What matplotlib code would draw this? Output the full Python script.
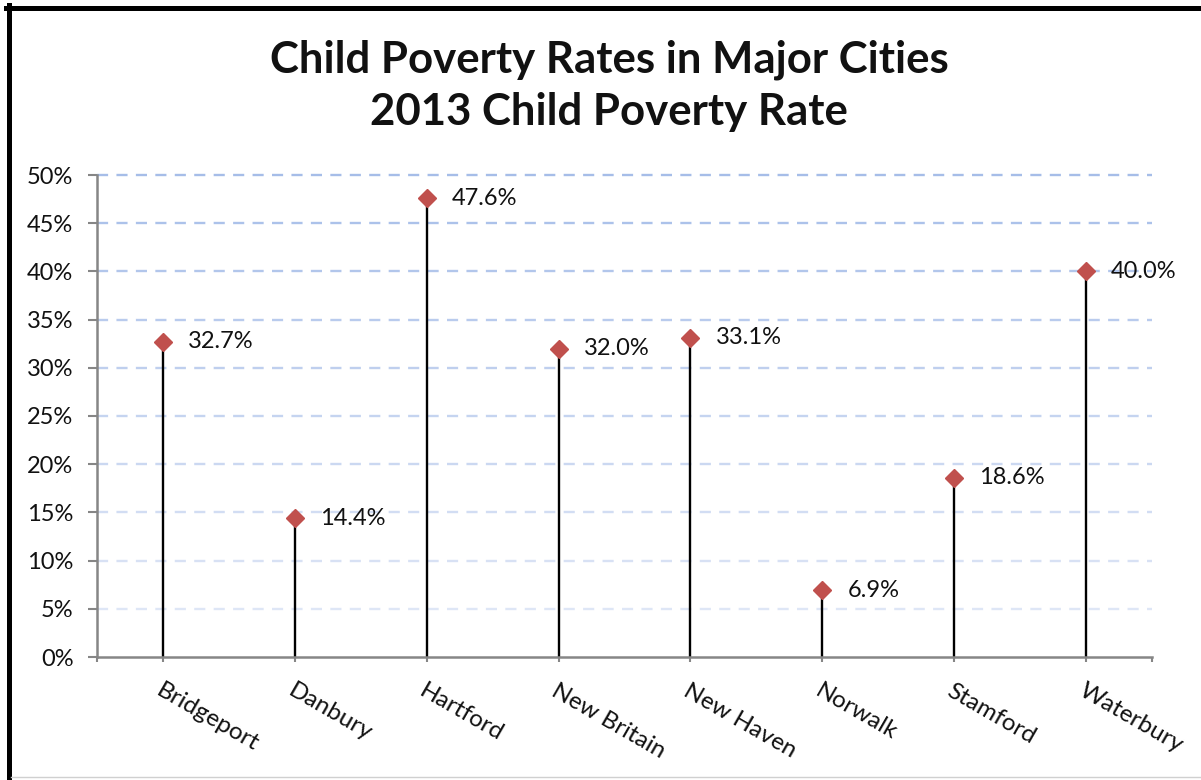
import numpy as np
import matplotlib
matplotlib.use('Agg')
import matplotlib.pyplot as plt
from matplotlib.lines import Line2D

# Chart data
cities = ['Bridgeport', 'Danbury', 'Hartford', 'New Britain',
          'New Haven', 'Norwalk', 'Stamford', 'Waterbury']
rates = [0.327, 0.144, 0.476, 0.320, 0.331, 0.069, 0.186, 0.400]
y_ticks = [0, 0.05, 0.10, 0.15, 0.20, 0.25, 0.30, 0.35, 0.40, 0.45, 0.50]
title_lines = ['Child Poverty Rates in Major Cities', '2013 Child Poverty Rate']

plt.rcParams['font.family'] = ['Lato', 'DejaVu Sans']
plt.rcParams['lines.scale_dashes'] = False

marker_color = '#C0504D'
axis_color = '#868686'
text_color = '#111111'

fig = plt.figure(figsize=(12.01, 7.80), dpi=100)
ax = fig.add_axes([97 / 1201, 1 - 657 / 780, (1152 - 97) / 1201, (657 - 175) / 780])

x = np.arange(len(cities))

# Gridlines, fading from darker blue at the top to paler at the bottom
top_rgb = np.array([166, 189, 232]) / 255
bot_rgb = np.array([222, 230, 246]) / 255
for yv in y_ticks[1:]:
    t = (yv - 0.05) / 0.45
    c = bot_rgb + (top_rgb - bot_rgb) * t
    ax.axhline(yv, color=c, lw=1.7, dashes=(8, 6), zorder=0, clip_on=False)

# Stems and markers
ax.vlines(x, 0, rates, color='black', lw=1.7, zorder=2)
ax.plot(x, rates, linestyle='none', marker='D', markersize=9.5,
        color=marker_color, mec=marker_color, zorder=3)

for xi, r in zip(x, rates):
    ax.annotate(f'{r * 100:.1f}%', (xi, r), xytext=(18, 0),
                textcoords='offset points', ha='left', va='center',
                fontsize=17, color=text_color, zorder=4)

ax.set_xlim(-0.5, len(cities) - 0.5)
ax.set_ylim(0, 0.5)
ax.set_yticks(y_ticks)
ax.set_yticklabels([f'{int(round(v * 100))}%' for v in y_ticks])
ax.set_xticks(x)
ax.set_xticks([-0.5, len(cities) - 0.5], minor=True)
ax.set_xticklabels(cities)

for s in ['top', 'right']:
    ax.spines[s].set_visible(False)
for s in ['left', 'bottom']:
    ax.spines[s].set_color(axis_color)
    ax.spines[s].set_linewidth(1.8)

ax.tick_params(axis='y', direction='out', length=6.5, width=1.5,
               color=axis_color, labelsize=17, labelcolor=text_color, pad=10.5)
ax.tick_params(axis='x', which='both', direction='out', length=3.6, width=1.5,
               color=axis_color)
ax.tick_params(axis='x', which='major', labelsize=17.5, labelcolor=text_color, pad=13)

for lab in ax.get_xticklabels():
    lab.set_rotation(-30)
    lab.set_ha('left')
    lab.set_va('top')
    lab.set_rotation_mode('anchor')

# Title
fig.text(0.507, 1 - 73 / 780, title_lines[0], ha='center', va='baseline',
         fontsize=31.5, fontweight='bold', color=text_color)
fig.text(0.507, 1 - 125 / 780, title_lines[1], ha='center', va='baseline',
         fontsize=31.5, fontweight='bold', color=text_color)

# Frame around the chart
fig.add_artist(Line2D([8.5 / 1201, 8.5 / 1201], [0, 1 - 5 / 780],
                      transform=fig.transFigure, color='black', lw=3.6))
fig.add_artist(Line2D([6 / 1201, 1], [1 - 7.5 / 780, 1 - 7.5 / 780],
                      transform=fig.transFigure, color='black', lw=3.6))
fig.add_artist(Line2D([11 / 1201, 1], [1 - 777 / 780, 1 - 777 / 780],
                      transform=fig.transFigure, color='#d0d0d0', lw=1))

fig.savefig('out.png', dpi=100)
